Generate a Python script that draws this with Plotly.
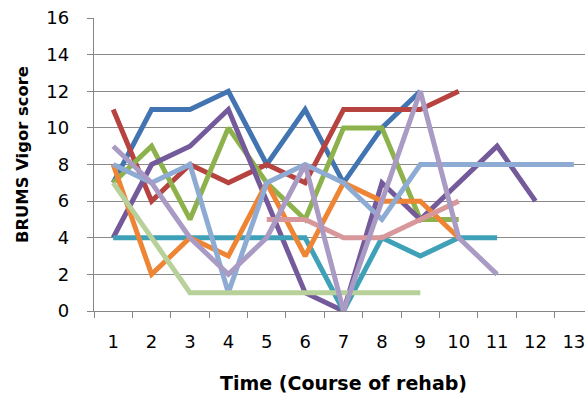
import plotly.graph_objects as go

# Time points (course of rehab) and BRUMS vigor scores per participant
time_points = list(range(1, 14))

p1 = [7, 11, 11, 12, 8, 11, 7, 10, 12]
p2 = [11, 6, 8, 7, 8, 7, 11, 11, 11, 12]
p3 = [7, 9, 5, 10, 7, 5, 10, 10, 5, 5]
p4 = [4, 8, 9, 11, 6, 1, 0, 7, 5, 7, 9, 6]
p5 = [4, 4, 4, 4, 4, 4, 0, 4, 3, 4, 4]
p6 = [8, 2, 4, 3, 7, 3, 7, 6, 6, 4]
p7 = [8, 7, 8, 1, 7, 8, 7, 5, 8, 8, 8, 8, 8]
p8 = [None, None, None, None, 5, 5, 4, 4, 5, 6]
p9 = [7, 4, 1, 1, 1, 1, 1, 1, 1]
p10 = [9, 7, 4, 2, 4, 8, 0, 6, 12, 4, 2]

series = [p1, p2, p3, p4, p5, p6, p7, p8, p9, p10]
colors = ["#4174B0", "#B6433F", "#8DB24C", "#745A9A", "#3FA1B8",
          "#EE8535", "#8EABD4", "#D8979A", "#B8D099", "#A99BC3"]

FONT = "DejaVu Sans"
AXIS_GREY = "#868686"

fig = go.Figure()
for vals, col in zip(series, colors):
    fig.add_trace(go.Scatter(
        x=time_points[:len(vals)], y=vals, mode="lines",
        line=dict(color=col, width=5), connectgaps=False,
        showlegend=False, hoverinfo="skip"))

fig.update_layout(
    width=585, height=402,
    margin=dict(l=94, r=0, t=18, b=91),
    plot_bgcolor="white", paper_bgcolor="white",
    font=dict(family=FONT, color="black"),
)

fig.update_xaxes(
    range=[0.5, 13.29], tickmode="array", tickvals=time_points,
    ticktext=[str(t) for t in time_points],
    tickfont=dict(size=18, family=FONT), ticks="", ticklen=0,
    ticklabelstandoff=14, ticklabeloverflow="allow",
    showgrid=False, zeroline=False,
    showline=True, linecolor=AXIS_GREY, linewidth=1.4,
    minor=dict(ticks="outside", tick0=0.5, dtick=1, ticklen=6,
               tickcolor=AXIS_GREY, tickwidth=1.4, showgrid=False),
)

fig.update_yaxes(
    range=[0, 16], dtick=2, tick0=0,
    tickfont=dict(size=18, family=FONT),
    ticks="outside", ticklen=6, tickcolor=AXIS_GREY, tickwidth=1.4,
    ticklabelstandoff=14,
    showgrid=True, gridcolor="#8A8A8A", gridwidth=1.4, zeroline=False,
    showline=True, linecolor=AXIS_GREY, linewidth=1.4,
)

# axis titles
fig.add_annotation(
    x=7, xref="x", y=-0.245, yref="paper",
    text="<b>Time (Course of rehab)</b>", showarrow=False,
    font=dict(size=19, family=FONT), xanchor="center", yanchor="middle",
)
fig.add_annotation(
    x=-0.147, xref="paper", y=0.535, yref="paper",
    text="<b>BRUMS Vigor score</b>", showarrow=False, textangle=-90,
    font=dict(size=16.4, family=FONT), xanchor="center", yanchor="middle",
)

fig.write_html("out.html")
